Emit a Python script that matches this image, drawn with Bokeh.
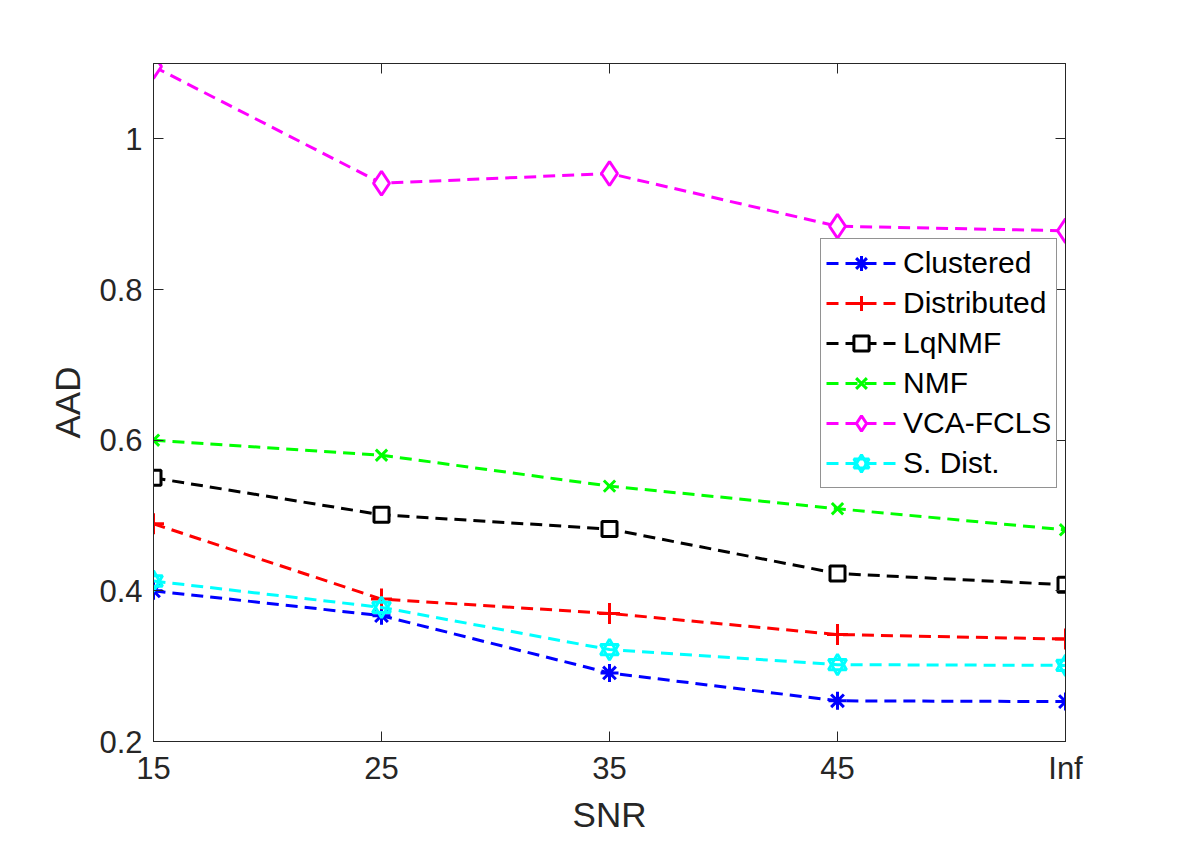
from bokeh.plotting import figure
from bokeh.models import (LinearAxis, FixedTicker, Range1d, Legend, LegendItem,
                          ColumnDataSource)
from bokeh.embed import file_html
from bokeh.resources import INLINE

snr_labels = ["15", "25", "35", "45", "Inf"]
x_pos = [0, 1, 2, 3, 4]

clustered = [0.400, 0.367, 0.291, 0.254, 0.253]
distributed = [0.489, 0.389, 0.370, 0.342, 0.336]
lqnmf = [0.550, 0.501, 0.482, 0.423, 0.408]
nmf = [0.600, 0.580, 0.539, 0.509, 0.481]
vca_fcls = [1.096, 0.941, 0.954, 0.884, 0.878]
s_dist = [0.413, 0.378, 0.322, 0.302, 0.301]

y_ticks = [0.2, 0.4, 0.6, 0.8, 1.0]
y_tick_labels = ["0.2", "0.4", "0.6", "0.8", "1"]

FONT = "Liberation Sans"
AX = "#262626"

p = figure(width=1180, height=842, output_backend="svg", toolbar_location=None,
           x_range=Range1d(0, 4), y_range=Range1d(0.2, 1.1),
           min_border_left=153, min_border_right=115, min_border_top=63,
           min_border_bottom=101, x_axis_label="SNR", y_axis_label="AAD")
p.grid.visible = False
p.outline_line_color = AX
p.background_fill_color = "white"
p.border_fill_color = "white"

def style_axis(ax, show_labels=True):
    ax.major_tick_in = 10
    ax.major_tick_out = 0
    ax.minor_tick_in = 0
    ax.minor_tick_out = 0
    ax.axis_line_color = AX
    ax.major_tick_line_color = AX
    ax.major_label_text_font = FONT
    ax.major_label_text_font_size = "31px"
    ax.major_label_text_color = AX
    ax.axis_label_text_font = FONT
    ax.axis_label_text_font_size = "35px"
    ax.axis_label_text_font_style = "normal"
    ax.axis_label_text_color = AX
    if not show_labels:
        ax.major_label_text_font_size = "0px"
        ax.major_label_text_alpha = 0

xt = FixedTicker(ticks=x_pos)
yt = FixedTicker(ticks=y_ticks)
xover = {i: s for i, s in zip(x_pos, snr_labels)}
yover = {v: s for v, s in zip(y_ticks, y_tick_labels)}

p.xaxis.ticker = xt
p.xaxis.major_label_overrides = xover
p.yaxis.ticker = yt
p.yaxis.major_label_overrides = yover
for a in p.xaxis:
    style_axis(a)
    a.major_label_standoff = 9
    a.axis_label_standoff = 6
for a in p.yaxis:
    style_axis(a)
    a.major_label_standoff = 11
    a.axis_label_standoff = 9

top = LinearAxis(ticker=FixedTicker(ticks=x_pos))
style_axis(top, False)
p.add_layout(top, "above")
right = LinearAxis(ticker=FixedTicker(ticks=y_ticks))
style_axis(right, False)
p.add_layout(right, "right")

DASH = "12 7"
LW = 3
items = []

def series(name, ys, color, marker, size, fill=None):
    src = ColumnDataSource(dict(x=x_pos, y=ys))
    l = p.line("x", "y", source=src, line_color=color, line_width=LW, line_dash=DASH)
    rs = [l]
    if marker == "hexagram":
        for m in ("triangle", "inverted_triangle"):
            r = p.scatter("x", "y", source=src, marker=m, size=size,
                          line_color=color, line_width=3, fill_color=None)
            rs.append(r)
    else:
        r = p.scatter("x", "y", source=src, marker=marker, size=size,
                      line_color=color, line_width=3,
                      fill_color=fill if fill else None)
        rs.append(r)
    items.append(LegendItem(label=name, renderers=rs))

series("Clustered", clustered, "#0000ff", "asterisk", 18)
series("Distributed", distributed, "#ff0000", "cross", 21)
series("LqNMF", lqnmf, "#000000", "square", 15, fill="white")
series("NMF", nmf, "#00ff00", "x", 16)
series("VCA-FCLS", vca_fcls, "#ff00ff", "diamond", 24, fill="white")
series("S. Dist.", s_dist, "#00ffff", "hexagram", 18)

leg = Legend(items=items, location=(667, 253))
leg.label_text_font = FONT
leg.label_text_font_size = "30px"
leg.label_text_color = "#000000"
leg.glyph_width = 70
leg.glyph_height = 38
leg.label_height = 38
leg.spacing = 2
leg.padding = 5
leg.margin = 0
leg.label_standoff = 7
leg.border_line_color = AX
leg.border_line_width = 1
leg.background_fill_color = "white"
leg.background_fill_alpha = 1
p.add_layout(leg, "center")

open("out.html", "w").write(file_html(p, INLINE))
